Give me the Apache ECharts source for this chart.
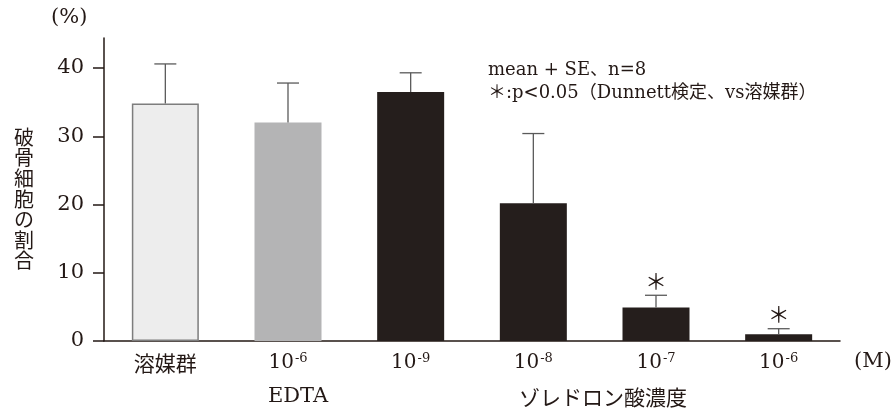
<!DOCTYPE html>
<html>
<head>
<meta charset="utf-8">
<script src="https://cdn.jsdelivr.net/npm/echarts@6/dist/echarts.min.js"></script>
<style>
  html, body { margin: 0; padding: 0; background: #ffffff; }
  #chart { width: 893px; height: 410px; }
</style>
</head>
<body>
<div id="chart"></div>
<script>
// Osteoclast ratio by treatment group (mean + SE, n=8)
const categories = ['溶媒群', 'EDTA 1e-6', 'ZOL 1e-9', 'ZOL 1e-8', 'ZOL 1e-7', 'ZOL 1e-6'];
const exponents = [null, -6, -9, -8, -7, -6];
const means = [34.8, 32.0, 36.5, 20.2, 4.9, 1.0];
const errors = [5.8, 5.8, 2.8, 10.2, 1.8, 0.8];
const significant = [false, false, false, false, true, true];
const yTicks = [0, 10, 20, 30, 40];

const INK = '#231815';
const SERIF = '"DejaVu Serif", "Noto Sans CJK JP", serif';
const JP = '"Noto Sans CJK JP", sans-serif';
const fills = ['#ededed', '#b4b4b5', '#251e1c', '#251e1c', '#251e1c', '#251e1c'];

const chart = echarts.init(document.getElementById('chart'), null, { renderer: 'canvas' });

const barData = means.map((v, i) => ({
  value: v,
  itemStyle: i === 0
    ? { color: fills[i], borderColor: '#7d7d7d', borderWidth: 1.5 }
    : { color: fills[i] }
}));

const errData = means.map((v, i) => [i, v, v + errors[i], significant[i] ? 1 : 0]);

chart.setOption({
  animation: false,
  grid: { left: 104, right: 53, top: 38, bottom: 69 },
  xAxis: {
    type: 'category',
    data: categories,
    boundaryGap: true,
    axisLine: { lineStyle: { color: INK, width: 1.5 } },
    axisTick: { show: false },
    axisLabel: {
      margin: 10,
      color: INK,
      formatter: (val, idx) => exponents[idx] === null
        ? '{jp|' + categories[idx] + '}'
        : '{b|10}{sup|' + exponents[idx] + '}',
      rich: {
        jp: { fontFamily: JP, fontSize: 21, color: INK, lineHeight: 24 },
        b: { fontFamily: SERIF, fontSize: 20, color: INK, lineHeight: 24 },
        sup: { fontFamily: SERIF, fontSize: 13, color: INK, lineHeight: 24, padding: [0, 0, 9, 1] }
      }
    }
  },
  yAxis: {
    type: 'value',
    min: 0,
    max: 44.4,
    interval: 10,
    splitLine: { show: false },
    axisLine: { show: true, lineStyle: { color: INK, width: 1.5 } },
    axisTick: { show: true, inside: false, length: 11, customValues: yTicks, lineStyle: { color: INK, width: 1.5 } },
    axisLabel: {
      customValues: yTicks,
      margin: 20,
      color: INK,
      fontFamily: SERIF,
      fontSize: 21
    }
  },
  series: [
    {
      type: 'bar',
      data: barData,
      barWidth: 67,
      z: 2
    },
    {
      type: 'custom',
      z: 3,
      data: errData,
      renderItem: (params, api) => {
        const x = api.value(0);
        const base = api.coord([x, api.value(1)]);
        const top = api.coord([x, api.value(2)]);
        const half = 11;
        const stroke = { stroke: '#5a5a5a', lineWidth: 1.3 };
        const children = [
          { type: 'line', shape: { x1: base[0], y1: base[1], x2: top[0], y2: top[1] }, style: stroke },
          { type: 'line', shape: { x1: top[0] - half, y1: top[1], x2: top[0] + half, y2: top[1] }, style: stroke }
        ];
        if (api.value(3)) {
          children.push({
            type: 'text',
            style: {
              text: '＊', x: top[0], y: top[1] - 15,
              align: 'center', verticalAlign: 'middle',
              fill: INK, font: '22px "Noto Sans CJK JP", sans-serif'
            }
          });
        }
        return { type: 'group', children };
      }
    }
  ],
  graphic: [
    { type: 'text', left: 51, top: 7, style: { text: '(%)', fill: INK, font: '21px ' + SERIF } },
    {
      type: 'text', left: 14, top: 127,
      style: { text: '破\n骨\n細\n胞\nの\n割\n合', fill: INK, font: '20px ' + JP, lineHeight: 20.6 }
    },
    {
      type: 'text', left: 488, top: 61,
      style: {
        text: '{l|mean + SE、n=8}\n{l|＊:p<0.05（Dunnett検定、vs溶媒群）}',
        rich: { l: { fontFamily: SERIF, fontSize: 18, fill: INK, color: INK, lineHeight: 23 } }
      }
    },
    { type: 'text', left: 854, top: 351, style: { text: '(M)', fill: INK, font: '21px ' + SERIF } },
    { type: 'text', x: 298, y: 397, style: { text: 'EDTA', fill: INK, font: '21px ' + SERIF, align: 'center', verticalAlign: 'middle' } },
    { type: 'text', x: 603, y: 397, style: { text: 'ゾレドロン酸濃度', fill: INK, font: '21px ' + JP, align: 'center', verticalAlign: 'middle' } }
  ]
});
</script>
</body>
</html>
